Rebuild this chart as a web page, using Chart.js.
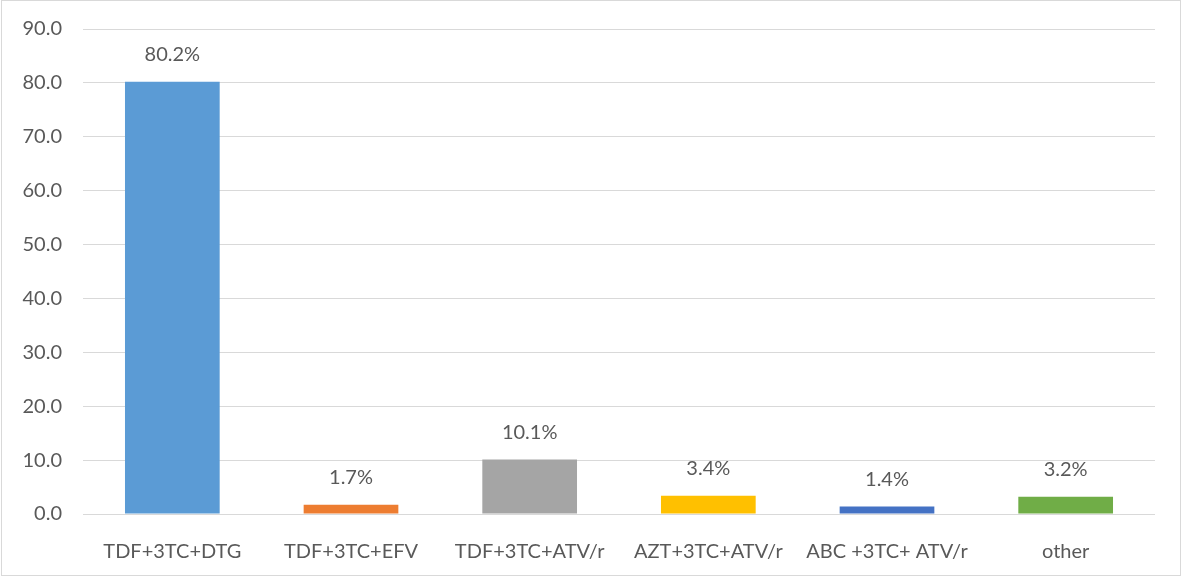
<!DOCTYPE html>
<html>
<head>
<meta charset="utf-8">
<script src="https://cdn.jsdelivr.net/npm/chart.js@4/dist/chart.umd.min.js"></script>
<style>
html,body{margin:0;padding:0;background:#fff;}
#wrap{width:1181px;height:577px;position:relative;}
</style>
</head>
<body>
<div id="wrap"><canvas id="c" width="1181" height="577"></canvas></div>
<script>
const categories = ["TDF+3TC+DTG", "TDF+3TC+EFV", "TDF+3TC+ATV/r", "AZT+3TC+ATV/r", "ABC +3TC+ ATV/r", "other"];
const values = [80.2, 1.7, 10.1, 3.4, 1.4, 3.2];
const barColors = ["#5B9BD5", "#ED7D31", "#A5A5A5", "#FFC000", "#4472C4", "#70AD47"];
const yTicks = [0, 10, 20, 30, 40, 50, 60, 70, 80, 90];

const FONT = "Lato, 'Open Sans', sans-serif";
const TXT = "#595959";

const labelPlugin = {
  id: 'barLabels',
  afterDatasetsDraw(chart) {
    const ctx = chart.ctx;
    const meta = chart.getDatasetMeta(0);
    ctx.save();
    ctx.font = "20px " + FONT;
    ctx.fillStyle = TXT;
    ctx.textAlign = 'center';
    ctx.textBaseline = 'bottom';
    meta.data.forEach((bar, i) => {
      ctx.fillText(values[i].toFixed(1) + '%', bar.x, bar.y - 17);
    });
    ctx.restore();
  }
};
const borderPlugin = {
  id: 'frame',
  afterDraw(chart) {
    const ctx = chart.ctx;
    ctx.save();
    ctx.strokeStyle = '#D9D9D9';
    ctx.lineWidth = 1;
    ctx.strokeRect(1.5, 0.5, chart.width - 2, chart.height - 2);
    ctx.restore();
  }
};

new Chart(document.getElementById('c'), {
  type: 'bar',
  data: {
    labels: categories,
    datasets: [{
      data: values,
      backgroundColor: barColors,
      categoryPercentage: 1.0,
      barPercentage: 0.53
    }]
  },
  options: {
    responsive: false,
    animation: false,
    layout: { padding: { top: 29, right: 26, bottom: 1, left: 0 } },
    plugins: { legend: { display: false }, tooltip: { enabled: false } },
    scales: {
      x: {
        grid: { display: false },
        border: { display: false },
        ticks: { color: TXT, font: { size: 20, family: FONT }, padding: 18, maxRotation: 0 },
        afterFit(s) { s.height = 62; s.paddingLeft = 0; s.paddingRight = 0; }
      },
      y: {
        min: 0, max: 90,
        afterBuildTicks(s) { s.ticks = yTicks.map(v => ({ value: v })); },
        grid: { color: '#D9D9D9', lineWidth: 1, drawTicks: false },
        border: { display: false },
        ticks: { color: TXT, font: { size: 20, family: FONT }, padding: 21, callback: v => Number(v).toFixed(1) },
        afterFit(s) { s.width = 83; s.paddingTop = 0; s.paddingBottom = 0; }
      }
    }
  },
  plugins: [labelPlugin, borderPlugin]
});
</script>
</body>
</html>
